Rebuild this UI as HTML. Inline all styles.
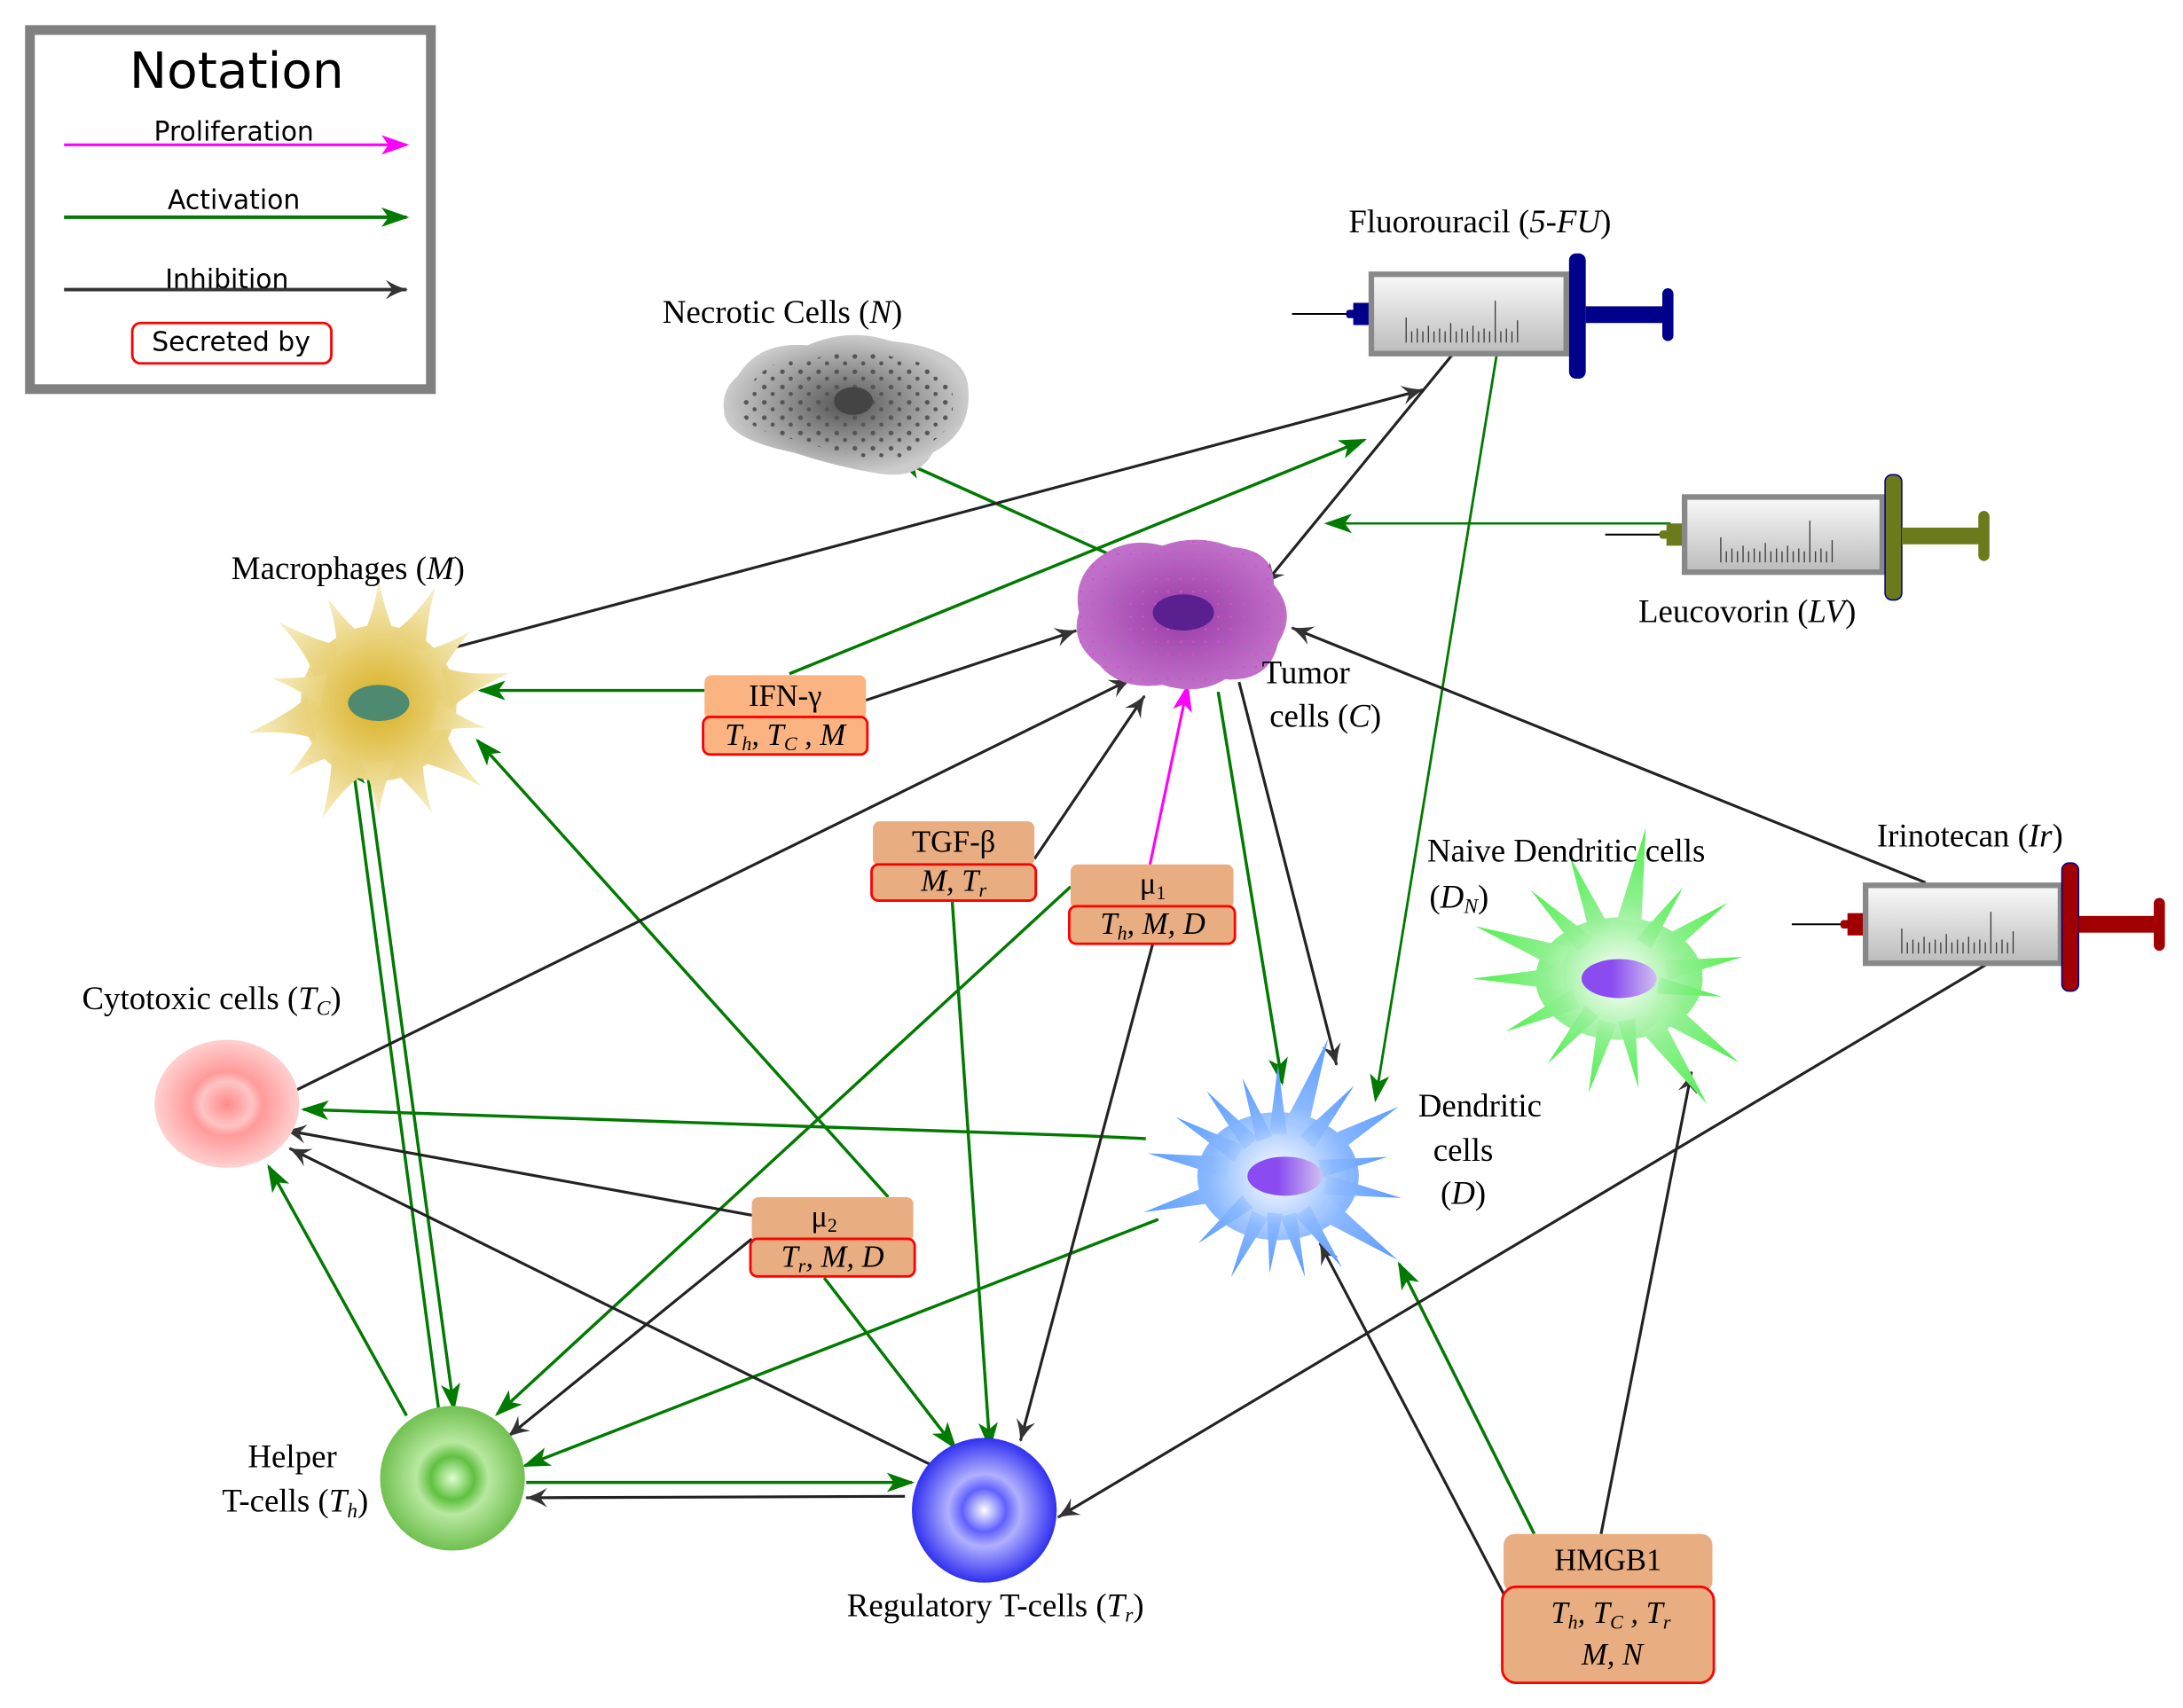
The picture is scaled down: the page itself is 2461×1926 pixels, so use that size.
<!DOCTYPE html>
<html><head><meta charset="utf-8"><style>
html,body{margin:0;padding:0;background:#fff;}
svg{display:block;}
.s{font-family:"Liberation Serif",serif;font-size:23.5px;fill:#000;}
.n{font-family:"DejaVu Sans","Liberation Sans",sans-serif;fill:#000;}
</style></head><body>
<svg width="2461" height="1926" viewBox="0 0 1568 1227" xmlns="http://www.w3.org/2000/svg">
<defs>
<marker id="ag" viewBox="0 0 20 14" refX="18" refY="7" markerWidth="20" markerHeight="14" markerUnits="userSpaceOnUse" orient="auto"><path d="M0,0 L20,7 L0,14 L5,7 Z" fill="#007a00"/></marker>
<marker id="am" viewBox="0 0 20 14" refX="18" refY="7" markerWidth="20" markerHeight="14" markerUnits="userSpaceOnUse" orient="auto"><path d="M0,0 L20,7 L0,14 L5,7 Z" fill="#ff00ff"/></marker>
<marker id="ab" viewBox="0 0 16 14" refX="15" refY="7" markerWidth="16" markerHeight="14" markerUnits="userSpaceOnUse" orient="auto"><path d="M0,0 Q8,5 16,7 Q8,9 0,14 L5,7 Z" fill="#333"/></marker>
<radialGradient id="gy" gradientUnits="userSpaceOnUse" cx="0" cy="0" r="90"><stop offset="0" stop-color="#d8b020"/><stop offset="1" stop-color="#f8f0cc"/></radialGradient>
<radialGradient id="gp"><stop offset="0" stop-color="#9a3aa8"/><stop offset="1" stop-color="#c070c8"/></radialGradient>
<radialGradient id="gn"><stop offset="0" stop-color="#555"/><stop offset="1" stop-color="#ccc"/></radialGradient>
<radialGradient id="gb" gradientUnits="userSpaceOnUse" cx="0" cy="0" r="100"><stop offset="0" stop-color="#fff"/><stop offset="0.5" stop-color="#8ab8ff"/><stop offset="1" stop-color="#5a9cff"/></radialGradient>
<radialGradient id="gg" gradientUnits="userSpaceOnUse" cx="0" cy="0" r="100"><stop offset="0" stop-color="#fff"/><stop offset="0.5" stop-color="#90f090"/><stop offset="1" stop-color="#50ee50"/></radialGradient>
<radialGradient id="gpk"><stop offset="0" stop-color="#ff8a8a"/><stop offset="0.35" stop-color="#ffc4c4"/><stop offset="0.5" stop-color="#ff9a9a"/><stop offset="1" stop-color="#ffd0d0"/></radialGradient>
<radialGradient id="ggr"><stop offset="0" stop-color="#dfffd0"/><stop offset="0.3" stop-color="#60c040"/><stop offset="0.5" stop-color="#b8e8a0"/><stop offset="1" stop-color="#70c050"/></radialGradient>
<radialGradient id="gbl"><stop offset="0" stop-color="#ffffff"/><stop offset="0.3" stop-color="#6060ff"/><stop offset="0.5" stop-color="#b0b0ff"/><stop offset="1" stop-color="#3030f0"/></radialGradient>
<linearGradient id="nuc" x1="0" x2="1"><stop offset="0.4" stop-color="#8a4cf0"/><stop offset="1" stop-color="#d0c0f0"/></linearGradient>
<linearGradient id="bar" x1="0" x2="0" y1="0" y2="1"><stop offset="0" stop-color="#fafafa"/><stop offset="1" stop-color="#bbb"/></linearGradient>
<pattern id="dp" width="13" height="11" patternUnits="userSpaceOnUse"><circle cx="3" cy="3" r="1.7" fill="#555"/><circle cx="9" cy="8" r="1.5" fill="#555"/></pattern>
<pattern id="tp" width="9" height="9" patternUnits="userSpaceOnUse"><circle cx="2" cy="2" r="0.8" fill="#d050d0"/></pattern>
<path id="ms" d="M-14,-45 Q-4,-60 0,-88 Q6,-60 14,-45 Z"/>
<path id="ds" d="M-8,-38 L0,-100 L8,-38 Z"/>
</defs>

<!-- Legend -->
<rect x="21.5" y="21.5" width="288" height="258" fill="#fff" stroke="#808080" stroke-width="7"/>
<text class="n" x="170" y="63" font-size="36" text-anchor="middle">Notation</text>
<text class="n" x="168" y="101" font-size="19" text-anchor="middle">Proliferation</text>
<line x1="46" y1="104" x2="292" y2="104" stroke="#ff00ff" stroke-width="2" marker-end="url(#am)"/>
<text class="n" x="168" y="150" font-size="19" text-anchor="middle">Activation</text>
<line x1="46" y1="156" x2="292" y2="156" stroke="#007a00" stroke-width="2.5" marker-end="url(#ag)"/>
<text class="n" x="163" y="207" font-size="19" text-anchor="middle">Inhibition</text>
<line x1="46" y1="208" x2="292" y2="208" stroke="#333" stroke-width="2.5" marker-end="url(#ab)"/>
<rect x="95" y="232" width="143" height="29" rx="6" fill="#fff" stroke="#f00" stroke-width="1.8"/>
<text class="n" x="166" y="252" font-size="19" text-anchor="middle">Secreted by</text>

<!-- Edges green -->
<g fill="none" stroke="#007a00" stroke-width="2.2">
<line x1="812" y1="405" x2="645" y2="330" marker-end="url(#ag)"/>
<line x1="567" y1="484" x2="980" y2="316" marker-end="url(#ag)"/>
<line x1="506" y1="496" x2="345" y2="496" marker-end="url(#ag)"/>
<line x1="1200" y1="376" x2="953" y2="376" marker-end="url(#ag)" stroke-width="1.6"/>
<line x1="1075" y1="255" x2="988" y2="790" marker-end="url(#ag)" stroke-width="1.8"/>
<line x1="875" y1="497" x2="921" y2="778" marker-end="url(#ag)"/>
<polyline points="823,818 780,816 218,797" marker-end="url(#ag)"/>
<line x1="832" y1="876" x2="377" y2="1053" marker-end="url(#ag)"/>
<line x1="769" y1="637" x2="357" y2="1016" marker-end="url(#ag)"/>
<line x1="592" y1="918" x2="686" y2="1040" marker-end="url(#ag)"/>
<line x1="638" y1="860" x2="343" y2="532" marker-end="url(#ag)"/>
<line x1="684" y1="648" x2="711" y2="1040" marker-end="url(#ag)"/>
<line x1="292" y1="1017" x2="193" y2="838" marker-end="url(#ag)"/>
<line x1="315" y1="1012" x2="253" y2="546" marker-end="url(#ag)"/>
<line x1="263" y1="548" x2="326" y2="1012" marker-end="url(#ag)"/>
<line x1="378" y1="1065" x2="655" y2="1065" marker-end="url(#ag)"/>
<line x1="1102" y1="1102" x2="1005" y2="908" marker-end="url(#ag)"/>
</g>
<line x1="826" y1="621" x2="853" y2="493" stroke="#ff00ff" stroke-width="2" marker-end="url(#am)"/>

<!-- Edges black -->
<g fill="none" stroke="#222" stroke-width="2">
<line x1="323" y1="466" x2="1022" y2="280" marker-end="url(#ab)"/>
<line x1="1043" y1="255" x2="908" y2="420" marker-end="url(#ab)"/>
<line x1="622" y1="503" x2="773" y2="453" marker-end="url(#ab)"/>
<line x1="213" y1="783" x2="812" y2="488" marker-end="url(#ab)"/>
<line x1="743" y1="617" x2="822" y2="500" marker-end="url(#ab)"/>
<line x1="1383" y1="634" x2="928" y2="451" marker-end="url(#ab)"/>
<line x1="890" y1="490" x2="960" y2="765" marker-end="url(#ab)"/>
<line x1="828" y1="678" x2="733" y2="1035" marker-end="url(#ab)"/>
<line x1="540" y1="873" x2="205" y2="812" marker-end="url(#ab)"/>
<line x1="540" y1="890" x2="365" y2="1032" marker-end="url(#ab)"/>
<line x1="668" y1="1052" x2="208" y2="825" marker-end="url(#ab)"/>
<line x1="650" y1="1075" x2="378" y2="1076" marker-end="url(#ab)"/>
<line x1="1435" y1="688" x2="760" y2="1090" marker-end="url(#ab)"/>
<line x1="1150" y1="1102" x2="1215" y2="770" marker-end="url(#ab)"/>
<line x1="1080" y1="1145" x2="948" y2="893" marker-end="url(#ab)"/>
</g>

<!-- Macrophage -->
<g transform="translate(272,505)" fill="url(#gy)">
<circle r="56"/>
<use href="#ms" transform="rotate(0)"/>
<use href="#ms" transform="rotate(26) scale(1.05)"/>
<use href="#ms" transform="rotate(52) scale(0.95)"/>
<use href="#ms" transform="rotate(77) scale(1.1)"/>
<use href="#ms" transform="rotate(103) scale(0.9)"/>
<use href="#ms" transform="rotate(129) scale(1.08)"/>
<use href="#ms" transform="rotate(154)"/>
<use href="#ms" transform="rotate(180) scale(0.92)"/>
<use href="#ms" transform="rotate(206) scale(1.05)"/>
<use href="#ms" transform="rotate(231) scale(0.95)"/>
<use href="#ms" transform="rotate(257) scale(1.1)"/>
<use href="#ms" transform="rotate(283) scale(0.9)"/>
<use href="#ms" transform="rotate(309) scale(1.05)"/>
<use href="#ms" transform="rotate(334) scale(0.95)"/>
<ellipse rx="22" ry="13" fill="#4e8a70"/>
</g>

<!-- Dendritic -->
<g transform="translate(918,845)" fill="url(#gb)">
<ellipse rx="58" ry="46"/>
<use href="#ds" transform="rotate(0) scale(0.8)"/>
<use href="#ds" transform="rotate(20) scale(1.05)"/>
<use href="#ds" transform="rotate(40) scale(0.85)"/>
<use href="#ds" transform="rotate(60) scale(1)"/>
<use href="#ds" transform="rotate(80) scale(0.8)"/>
<use href="#ds" transform="rotate(100) scale(0.9)"/>
<use href="#ds" transform="rotate(125) scale(1.05)"/>
<use href="#ds" transform="rotate(145) scale(0.8)"/>
<use href="#ds" transform="rotate(165) scale(0.75)"/>
<use href="#ds" transform="rotate(185) scale(0.7)"/>
<use href="#ds" transform="rotate(205) scale(0.8)"/>
<use href="#ds" transform="rotate(230) scale(0.75)"/>
<use href="#ds" transform="rotate(255) scale(1)"/>
<use href="#ds" transform="rotate(280) scale(0.95)"/>
<use href="#ds" transform="rotate(300) scale(0.85)"/>
<use href="#ds" transform="rotate(320) scale(0.8)"/>
<use href="#ds" transform="rotate(340) scale(0.75)"/>
<ellipse cx="5" rx="27" ry="14" fill="url(#nuc)"/>
</g>

<!-- Naive dendritic -->
<g transform="translate(1163,703)" fill="url(#gg)">
<ellipse rx="60" ry="44"/>
<use href="#ds" transform="rotate(10) scale(1.1)"/>
<use href="#ds" transform="rotate(35) scale(0.8)"/>
<use href="#ds" transform="rotate(55) scale(0.95)"/>
<use href="#ds" transform="rotate(80) scale(0.9)"/>
<use href="#ds" transform="rotate(100) scale(0.75)"/>
<use href="#ds" transform="rotate(125) scale(1.05)"/>
<use href="#ds" transform="rotate(145) scale(1.1)"/>
<use href="#ds" transform="rotate(170) scale(0.8)"/>
<use href="#ds" transform="rotate(195) scale(0.85)"/>
<use href="#ds" transform="rotate(220) scale(0.8)"/>
<use href="#ds" transform="rotate(245) scale(0.9)"/>
<use href="#ds" transform="rotate(270) scale(1.05)"/>
<use href="#ds" transform="rotate(290) scale(1.1)"/>
<use href="#ds" transform="rotate(315) scale(0.9)"/>
<use href="#ds" transform="rotate(338) scale(0.95)"/>
<ellipse rx="27" ry="14" fill="url(#nuc)"/>
</g>

<!-- Necrotic -->
<path id="nb" d="M530,270 Q545,245 580,248 Q610,235 640,245 Q690,250 695,275 Q700,310 670,325 Q660,345 630,340 Q600,335 570,325 Q520,315 520,295 Q518,280 530,270 Z" fill="url(#gn)"/>
<path d="M540,275 Q555,255 585,258 Q612,247 640,256 Q682,262 684,282 Q688,310 664,320 Q650,335 628,330 Q600,325 572,316 Q532,308 532,293 Z" fill="url(#dp)"/>
<ellipse cx="613" cy="288" rx="14" ry="10" fill="#444"/>
<!-- Tumor -->
<path d="M790,400 Q810,385 835,392 Q860,383 885,393 Q915,395 915,420 Q932,440 918,462 Q912,490 880,488 Q860,500 835,492 Q805,496 790,478 Q768,462 775,440 Q770,415 790,400 Z" fill="url(#gp)"/>
<path d="M790,400 Q810,385 835,392 Q860,383 885,393 Q915,395 915,420 Q932,440 918,462 Q912,490 880,488 Q860,500 835,492 Q805,496 790,478 Q768,462 775,440 Q770,415 790,400 Z" fill="url(#tp)"/>
<ellipse cx="850" cy="440" rx="22" ry="13" fill="#5a2090"/>
<!-- Cytotoxic -->
<ellipse cx="163" cy="793" rx="52" ry="46" fill="url(#gpk)"/>
<!-- Helper -->
<circle cx="325" cy="1062" r="52" fill="url(#ggr)"/>
<!-- Regulatory -->
<circle cx="707" cy="1085" r="52" fill="url(#gbl)"/>

<!-- Syringes -->
<g>
<line x1="928" y1="225.5" x2="975" y2="225.5" stroke="#000" stroke-width="1.3"/>
<rect x="972" y="217.5" width="13" height="16" fill="#00008b"/>
<rect x="967" y="222.5" width="7" height="6" rx="2" fill="#00008b"/>
<rect x="985" y="197" width="140" height="57" fill="url(#bar)" stroke="#888" stroke-width="4"/>
<path d="M1010,246 v-18 m4,18 v-8 m4,8 v-10 m4,10 v-8 m4,8 v-12 m4,12 v-8 m4,8 v-10 m4,10 v-8 m4,8 v-14 m4,14 v-8 m4,8 v-10 m4,10 v-8 m4,8 v-12 m4,12 v-8 m4,8 v-10 m4,10 v-8 m4,8 v-30 m4,30 v-8 m4,8 v-10 m4,10 v-8 m4,8 v-16" stroke="#333" stroke-width="0.8" fill="none"/>
<rect x="1127" y="182" width="12" height="90" rx="5" fill="#00008b"/>
<rect x="1139" y="220" width="62" height="12" fill="#00008b"/>
<rect x="1194" y="207" width="8" height="38" rx="4" fill="#00008b"/>

<line x1="1153" y1="384" x2="1200" y2="384" stroke="#000" stroke-width="1.3"/>
<rect x="1197" y="376" width="13" height="16" fill="#6b7a1a"/>
<rect x="1192" y="381" width="7" height="6" rx="2" fill="#6b7a1a"/>
<rect x="1210" y="357" width="142" height="54" fill="url(#bar)" stroke="#888" stroke-width="4"/>
<path d="M1236,404 v-18 m4,18 v-8 m4,8 v-10 m4,10 v-8 m4,8 v-12 m4,12 v-8 m4,8 v-10 m4,10 v-8 m4,8 v-14 m4,14 v-8 m4,8 v-10 m4,10 v-8 m4,8 v-12 m4,12 v-8 m4,8 v-10 m4,10 v-8 m4,8 v-30 m4,30 v-8 m4,8 v-10 m4,10 v-8 m4,8 v-16" stroke="#333" stroke-width="0.8" fill="none"/>
<rect x="1354" y="341" width="12" height="90" rx="5" fill="#6b7a1a" stroke="#00008b" stroke-width="1"/>
<rect x="1366" y="379" width="62" height="12" fill="#6b7a1a"/>
<rect x="1421" y="367" width="8" height="36" rx="4" fill="#6b7a1a"/>

<line x1="1287" y1="664" x2="1328" y2="664" stroke="#000" stroke-width="1.3"/>
<rect x="1327" y="656" width="13" height="16" fill="#a00000"/>
<rect x="1322" y="661" width="7" height="6" rx="2" fill="#a00000"/>
<rect x="1340" y="636" width="140" height="56" fill="url(#bar)" stroke="#888" stroke-width="4"/>
<path d="M1366,685 v-18 m4,18 v-8 m4,8 v-10 m4,10 v-8 m4,8 v-12 m4,12 v-8 m4,8 v-10 m4,10 v-8 m4,8 v-14 m4,14 v-8 m4,8 v-10 m4,10 v-8 m4,8 v-12 m4,12 v-8 m4,8 v-10 m4,10 v-8 m4,8 v-30 m4,30 v-8 m4,8 v-10 m4,10 v-8 m4,8 v-16" stroke="#333" stroke-width="0.8" fill="none"/>
<rect x="1481" y="620" width="12" height="92" rx="5" fill="#a00000" stroke="#00008b" stroke-width="1"/>
<rect x="1493" y="658" width="60" height="12" fill="#a00000"/>
<rect x="1547" y="645" width="8" height="38" rx="4" fill="#a00000"/>
</g>

<!-- Boxes -->
<g font-family="Liberation Serif,serif" font-size="22" text-anchor="middle">
<rect x="506" y="485" width="116" height="32" rx="5" fill="#fbb382"/>
<rect x="505" y="515" width="118" height="27" rx="5" fill="#fbb382" stroke="#f00" stroke-width="1.8"/>
<text x="564" y="507">IFN-γ</text>
<text x="564" y="535" font-style="italic">T<tspan font-size="14" dy="4">h</tspan><tspan dy="-4">, T</tspan><tspan font-size="14" dy="4">C</tspan><tspan dy="-4"> , M</tspan></text>

<rect x="627" y="590" width="116" height="32" rx="5" fill="#e9ad82"/>
<rect x="626" y="621" width="118" height="26" rx="5" fill="#e9ad82" stroke="#f00" stroke-width="1.8"/>
<text x="685" y="612">TGF-β</text>
<text x="685" y="640" font-style="italic">M, T<tspan font-size="14" dy="4">r</tspan></text>

<rect x="769" y="621" width="117" height="32" rx="5" fill="#e9ad82"/>
<rect x="768" y="651" width="119" height="27" rx="5" fill="#e9ad82" stroke="#f00" stroke-width="1.8"/>
<text x="828" y="642">μ<tspan font-size="14" dy="4">1</tspan></text>
<text x="828" y="671" font-style="italic">T<tspan font-size="14" dy="4">h</tspan><tspan dy="-4">, M, D</tspan></text>

<rect x="540" y="860" width="116" height="32" rx="5" fill="#e9ad82"/>
<rect x="539" y="890" width="118" height="27" rx="5" fill="#e9ad82" stroke="#f00" stroke-width="1.8"/>
<text x="592" y="881">μ<tspan font-size="14" dy="4">2</tspan></text>
<text x="598" y="910" font-style="italic">T<tspan font-size="14" dy="4">r</tspan><tspan dy="-4">, M, D</tspan></text>

<rect x="1080" y="1102" width="150" height="42" rx="8" fill="#e9ad82"/>
<rect x="1079" y="1140" width="152" height="69" rx="10" fill="#e9ad82" stroke="#f00" stroke-width="1.8"/>
<text x="1155" y="1128">HMGB1</text>
<text x="1157" y="1166" font-style="italic">T<tspan font-size="14" dy="4">h</tspan><tspan dy="-4">, T</tspan><tspan font-size="14" dy="4">C</tspan><tspan dy="-4"> , T</tspan><tspan font-size="14" dy="4">r</tspan></text>
<text x="1158" y="1196" font-style="italic">M, N</text>
</g>

<!-- Labels -->
<g class="s" text-anchor="middle">
<text x="562" y="232">Necrotic Cells (<tspan font-style="italic">N</tspan>)</text>
<text x="1063" y="167">Fluorouracil (<tspan font-style="italic">5-FU</tspan>)</text>
<text x="1255" y="447">Leucovorin (<tspan font-style="italic">LV</tspan>)</text>
<text x="1415" y="608">Irinotecan (<tspan font-style="italic">Ir</tspan>)</text>
<text x="250" y="416">Macrophages (<tspan font-style="italic">M</tspan>)</text>
<text x="938" y="491">Tumor</text>
<text x="952" y="522">cells (<tspan font-style="italic">C</tspan>)</text>
<text x="152" y="725">Cytotoxic cells (<tspan font-style="italic">T<tspan font-size="15" dy="4">C</tspan></tspan><tspan dy="-4">)</tspan></text>
<text x="210" y="1054">Helper</text>
<text x="212" y="1086">T-cells (<tspan font-style="italic">T<tspan font-size="15" dy="4">h</tspan></tspan><tspan dy="-4">)</tspan></text>
<text x="715" y="1161">Regulatory T-cells (<tspan font-style="italic">T<tspan font-size="15" dy="4">r</tspan></tspan><tspan dy="-4">)</tspan></text>
<text x="1063" y="802">Dendritic</text>
<text x="1051" y="834">cells</text>
<text x="1051" y="865">(<tspan font-style="italic">D</tspan>)</text>
<text x="1125" y="619">Naive Dendritic cells</text>
<text x="1048" y="652">(<tspan font-style="italic">D<tspan font-size="15" dy="4">N</tspan></tspan><tspan dy="-4">)</tspan></text>
</g>
</svg>
</body></html>
